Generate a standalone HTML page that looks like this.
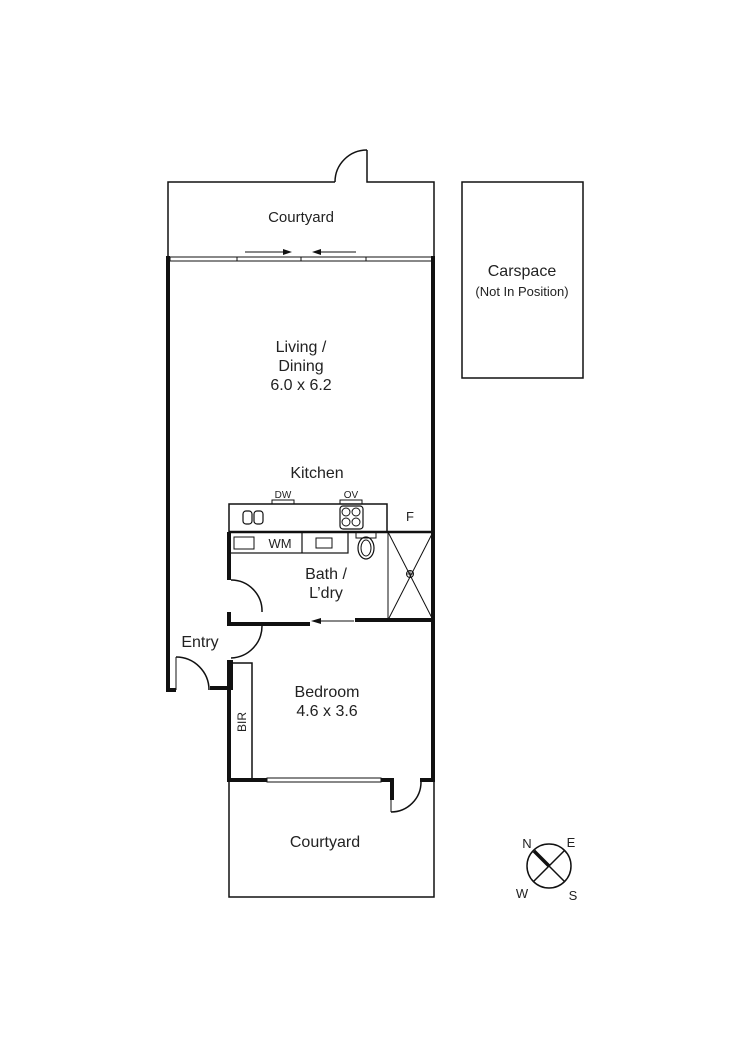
<!DOCTYPE html>
<html><head><meta charset="utf-8"><style>
html,body{margin:0;padding:0;background:#fff}
svg{display:block}
text{font-family:"Liberation Sans",Arial,sans-serif;fill:#222}
</style></head><body>
<svg width="750" height="1061" viewBox="0 0 750 1061" xmlns="http://www.w3.org/2000/svg">
<g fill="none" stroke="#111" stroke-width="1.5">
<path d="M168 258 V182 H335 M367 150 V182 H434 V258"/>
<path d="M335 182 A32 32 0 0 1 367 150"/>
<rect x="462" y="182" width="121" height="196"/>
<rect x="170" y="257" width="263" height="4" stroke-width="1"/>
<line x1="237" y1="257" x2="237" y2="261" stroke-width="1"/>
<line x1="301" y1="257" x2="301" y2="261" stroke-width="1"/>
<line x1="366" y1="257" x2="366" y2="261" stroke-width="1"/>
<line x1="245" y1="252" x2="290" y2="252" stroke-width="1"/>
<path d="M283 249 L292 252 L283 255 Z" fill="#111" stroke="none"/>
<line x1="314" y1="252" x2="356" y2="252" stroke-width="1"/>
<path d="M321 249 L312 252 L321 255 Z" fill="#111" stroke="none"/>
</g>
<g fill="none" stroke="#111" stroke-width="4">
<path d="M168 256 V690 H176"/>
<path d="M210 688 H231 V660"/>
<path d="M433 256 V782"/>
<path d="M229 780 V660 M227 780 H267 M381 780 H392 V800 M420 780 H435"/>
<path d="M229 612 V624 H310 M355 620 H433"/>
<path d="M229 580 V532"/>
</g>
<g fill="none" stroke="#111" stroke-width="1.5">
<path d="M176 657 A33 33 0 0 1 209 690"/>
<line x1="176" y1="657" x2="176" y2="690" stroke-width="1"/>
<path d="M231 580 A31 31 0 0 1 262 612"/>
<path d="M262 626 A32 32 0 0 1 231 658"/>
<line x1="229" y1="532" x2="433" y2="532" stroke-width="2.5"/>
<path d="M229 532 V504 H387 V532"/>
<rect x="272" y="500" width="22" height="4" stroke-width="1"/>
<rect x="340" y="500" width="22" height="4" stroke-width="1"/>
<rect x="243" y="511" width="9" height="13" rx="3" stroke-width="1.2"/>
<rect x="254" y="511" width="9" height="13" rx="3" stroke-width="1.2"/>
<rect x="340" y="506" width="23" height="23" rx="3" stroke-width="1.2"/>
<circle cx="346" cy="512" r="4" stroke-width="1"/><circle cx="356" cy="512" r="4" stroke-width="1"/>
<circle cx="346" cy="522" r="4" stroke-width="1"/><circle cx="356" cy="522" r="4" stroke-width="1"/>
<rect x="230" y="532" width="118" height="21" stroke-width="1.2"/>
<line x1="302" y1="532" x2="302" y2="553" stroke-width="1.2"/>
<rect x="234" y="537" width="20" height="12" stroke-width="1"/>
<rect x="316" y="538" width="16" height="10" stroke-width="1"/>
<rect x="356" y="532" width="20" height="6" stroke-width="1"/>
<ellipse cx="366" cy="548" rx="8" ry="11" stroke-width="1.2"/>
<ellipse cx="366" cy="548" rx="5" ry="8" stroke-width="1"/>
<rect x="388" y="532" width="45" height="88" stroke-width="1"/>
<path d="M388 532 L433 620 M433 532 L388 620" stroke-width="1"/>
<circle cx="410" cy="574" r="3.5" stroke-width="1"/>
<line x1="406.5" y1="574" x2="413.5" y2="574" stroke-width="0.8"/>
<line x1="410" y1="570.5" x2="410" y2="577.5" stroke-width="0.8"/>
<line x1="318" y1="621" x2="354" y2="621" stroke-width="1"/>
<path d="M321 618 L311 621 L321 624 Z" fill="#111" stroke="none"/>
<path d="M231 663 H252 V780" stroke-width="1.5"/>
<rect x="267" y="778" width="114" height="4" stroke-width="1"/>
<line x1="391" y1="782" x2="391" y2="812" stroke-width="1"/>
<path d="M391 812 A30 30 0 0 0 421 782" stroke-width="1.5"/>
<path d="M229 782 V897 H434 V782"/>
<circle cx="549" cy="866" r="22"/>
<line x1="534" y1="851" x2="549" y2="866" stroke-width="3.5"/>
<line x1="549" y1="866" x2="565" y2="882"/>
<line x1="565" y1="850" x2="533" y2="882"/>
</g>
<g text-anchor="middle" font-size="15">
<text x="301" y="222">Courtyard</text>
<text x="522" y="276" font-size="16">Carspace</text>
<text x="522" y="296" font-size="13">(Not In Position)</text>
<text x="301" y="352" font-size="16">Living /</text>
<text x="301" y="371" font-size="16">Dining</text>
<text x="301" y="390" font-size="16">6.0 x 6.2</text>
<text x="317" y="478" font-size="16">Kitchen</text>
<text x="283" y="498" font-size="10">DW</text>
<text x="351" y="498" font-size="10">OV</text>
<text x="410" y="521" font-size="13">F</text>
<text x="280" y="548" font-size="13">WM</text>
<text x="326" y="579" font-size="16">Bath /</text>
<text x="326" y="598" font-size="16">L’dry</text>
<text x="200" y="647" font-size="16">Entry</text>
<text x="327" y="697" font-size="16">Bedroom</text>
<text x="327" y="716" font-size="16">4.6 x 3.6</text>
<text x="242" y="722" font-size="12" transform="rotate(-90 242 722)" dy="4">BIR</text>
<text x="325" y="847" font-size="16">Courtyard</text>
<text x="527" y="848" font-size="13">N</text>
<text x="571" y="847" font-size="13">E</text>
<text x="522" y="898" font-size="13">W</text>
<text x="573" y="900" font-size="13">S</text>
</g>
</svg>
</body></html>
